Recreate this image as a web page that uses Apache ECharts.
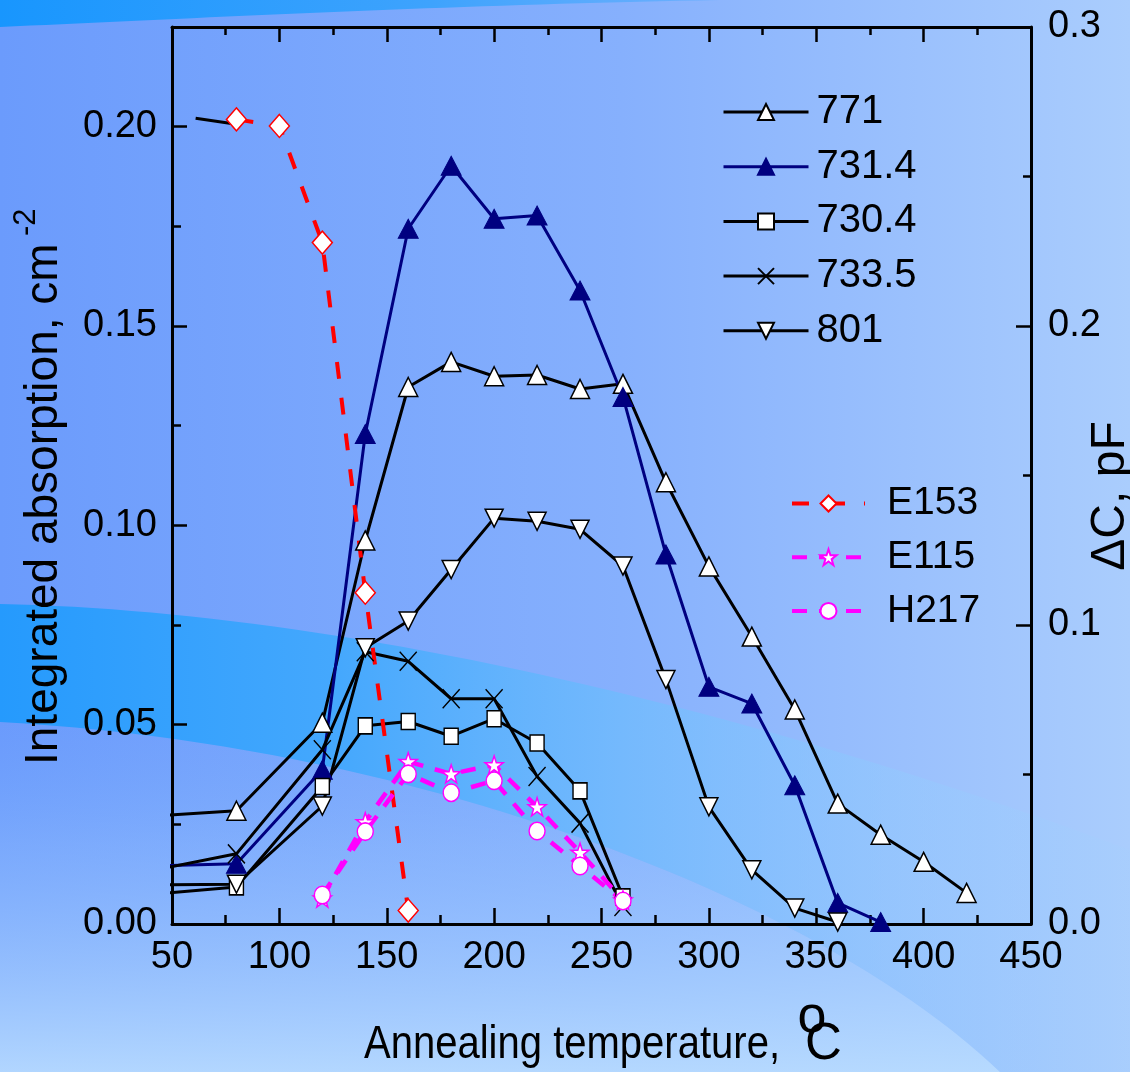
<!DOCTYPE html>
<html>
<head>
<meta charset="utf-8">
<title>Annealing behaviour of absorption bands and DLTS peaks</title>
<script src="https://cdn.jsdelivr.net/npm/echarts@6/dist/echarts.min.js"></script>
<style>
  html, body { margin: 0; padding: 0; background: #8ab3fd; }
  #chart { width: 1130px; height: 1072px; }
</style>
</head>
<body>
<div id="chart"></div>
<script>
// Annealing temperatures (°C); the first point (20 °C) sits left of the visible axis range
const tempIR = [20, 80, 120, 140, 160, 180, 200, 220, 240, 260, 280, 300, 320, 340, 360, 380, 400, 420];

// Integrated absorption of the IR bands, cm^-2
const abs771   = [0.0264, 0.0284, 0.0505, 0.0962, 0.1347, 0.1410, 0.1374, 0.1377, 0.1342, 0.1355, 0.1108, 0.0897, 0.0721, 0.0538, 0.0302, 0.0224, 0.0156, 0.0078];
const abs7314  = [0.0143, 0.0151, 0.0387, 0.1229, 0.1744, 0.1902, 0.1769, 0.1777, 0.1589, 0.1322, 0.0927, 0.0595, 0.0553, 0.0348, 0.0053, 0.0005];
const abs7304  = [0.0065, 0.0093, 0.0345, 0.0497, 0.0508, 0.0471, 0.0515, 0.0454, 0.0334, 0.0068];
const abs7335  = [0.0112, 0.0176, 0.0437, 0.0683, 0.0659, 0.0565, 0.0565, 0.0370, 0.0253, 0.0044];
const abs801   = [0.0097, 0.0100, 0.0296, 0.0693, 0.0760, 0.0889, 0.1018, 0.1010, 0.0990, 0.0898, 0.0613, 0.0294, 0.0136, 0.0040, 0.0005];

// DLTS peak amplitudes, ΔC in pF
const tempE153 = [80, 100, 120, 140, 160];
const dcE153   = [0.2691, 0.2669, 0.2279, 0.1108, 0.0045];
const tempE153Lead = [61, 80];
const dcE153Lead   = [0.2695, 0.2675];
const tempDLTS = [120, 140, 160, 180, 200, 220, 240, 260];
const dcE115   = [0.0087, 0.0342, 0.0543, 0.0502, 0.0532, 0.0392, 0.0240, 0.0080];
const dcH217   = [0.0097, 0.0309, 0.0502, 0.0439, 0.0479, 0.0311, 0.0194, 0.0077];

// Axis tick settings
const xTicks = { min: 50, max: 450, step: 50 };
const yLeftTicks = { min: 0, max: 0.225, step: 0.05, minorStep: 0.025 };
const yRightTicks = { min: 0, max: 0.3, step: 0.1 };

const FONT = "'Liberation Sans', Arial, Helvetica, sans-serif";

function pairs(xs, ys) { return ys.map((y, i) => [xs[i], y]); }

const SYM_DOWN = 'path://M0,0 L20,0 L10,17.3 Z';
const SYM_CROSS = 'path://M0,0 L10,10 M10,0 L0,10';
const SYM_STAR = 'path://M50,0 L61.8,35.1 L98.1,35.1 L68.8,56.7 L79.4,91 L50,70 L20.6,91 L31.2,56.7 L1.9,35.1 L38.2,35.1 Z';

// cubic bezier sampled into polygon points for the backdrop swooshes
function bez(p0, p1, p2, p3, n) {
  const pts = [];
  for (let i = 0; i <= n; i++) {
    const t = i / n, u = 1 - t;
    pts.push([
      u*u*u*p0[0] + 3*u*u*t*p1[0] + 3*u*t*t*p2[0] + t*t*t*p3[0],
      u*u*u*p0[1] + 3*u*u*t*p1[1] + 3*u*t*t*p2[1] + t*t*t*p3[1]
    ]);
  }
  return pts;
}

const topBand = [[0, 0], [720, 0]].concat(bez([720, 0], [450, 5], [200, 18], [0, 27], 40));
const midBand = bez([0, 604], [300, 610], [700, 690], [1130, 850], 50)
  .concat([[1130, 1072], [1000, 1072]])
  .concat(bez([1000, 1072], [820, 900], [420, 745], [0, 722], 50));
const lowBand = [[0, 722]].concat(bez([0, 722], [420, 745], [820, 900], [1000, 1072], 50))
  .concat([[0, 1072]]);

function lin(x0, y0, x1, y1, stops) {
  return { type: 'linear', x: x0, y: y0, x2: x1, y2: y1,
           colorStops: stops.map(s => ({ offset: s[0], color: s[1] })) };
}

const lineBase = (color, width, type) => ({ color: color, width: width, type: type || 'solid', cap: 'butt' });

const series = [
  {
    name: '771', type: 'line', data: pairs(tempIR, abs771), yAxisIndex: 0,
    symbol: 'triangle', symbolSize: [19, 19],
    lineStyle: lineBase('#000', 3),
    itemStyle: { color: '#fff', borderColor: '#000', borderWidth: 1.5 }
  },
  {
    name: '731.4', type: 'line', data: pairs(tempIR, abs7314), yAxisIndex: 0,
    symbol: 'triangle', symbolSize: [20, 19],
    lineStyle: lineBase('#000080', 3),
    itemStyle: { color: '#000080', borderColor: '#000080', borderWidth: 1 }
  },
  {
    name: '730.4', type: 'line', data: pairs(tempIR, abs7304), yAxisIndex: 0,
    symbol: 'rect', symbolSize: [14, 16],
    lineStyle: lineBase('#000', 3),
    itemStyle: { color: '#fff', borderColor: '#000', borderWidth: 1.5 }
  },
  {
    name: '733.5', type: 'line', data: pairs(tempIR, abs7335), yAxisIndex: 0,
    symbol: SYM_CROSS, symbolSize: [17, 19],
    lineStyle: lineBase('#000', 3),
    itemStyle: { color: 'rgba(0,0,0,0)', borderColor: '#000', borderWidth: 1.5 }
  },
  {
    name: '801', type: 'line', data: pairs(tempIR, abs801), yAxisIndex: 0,
    symbol: SYM_DOWN, symbolSize: [18, 18],
    lineStyle: lineBase('#000', 3),
    itemStyle: { color: '#fff', borderColor: '#000', borderWidth: 1.5 }
  },
  {
    name: 'E153 lead-in', type: 'line', data: pairs(tempE153Lead, dcE153Lead), yAxisIndex: 2,
    symbol: 'none', lineStyle: lineBase('#000', 3)
  },
  {
    name: 'E153', type: 'line', data: pairs(tempE153, dcE153), yAxisIndex: 2,
    symbol: 'diamond', symbolSize: [20, 23],
    lineStyle: { color: '#ff0000', width: 4, type: [17, 19] },
    itemStyle: { color: '#fff', borderColor: '#ff0000', borderWidth: 1.5 }
  },
  {
    name: 'E115', type: 'line', data: pairs(tempDLTS, dcE115), yAxisIndex: 2,
    symbol: SYM_STAR, symbolSize: [18, 18],
    lineStyle: { color: '#ff00ff', width: 4.5, type: [15, 12] },
    itemStyle: { color: '#fff', borderColor: '#ff00ff', borderWidth: 1.5 }
  },
  {
    name: 'H217', type: 'line', data: pairs(tempDLTS, dcH217), yAxisIndex: 2,
    symbol: 'circle', symbolSize: [16, 17.5],
    lineStyle: { color: '#ff00ff', width: 4.5, type: [15, 12] },
    itemStyle: { color: '#fff', borderColor: '#ff00ff', borderWidth: 1.5 }
  }
];
series.forEach(s => { s.clip = true; s.animation = false; s.emphasis = { disabled: true }; });

const axisLine = { show: true, onZero: false, lineStyle: { color: '#000', width: 3 } };
const labelStyle = { color: '#000', fontSize: 38, fontFamily: FONT };

const option = {
  animation: false,
  backgroundColor: 'transparent',
  grid: { left: 172, right: 99, top: 27, bottom: 148, containLabel: false },
  xAxis: [
    {
      type: 'value', position: 'bottom', min: xTicks.min, max: xTicks.max, interval: xTicks.step,
      axisLine: axisLine,
      axisTick: { inside: true, length: 16, lineStyle: { color: '#000', width: 2.5 } },
      minorTick: { show: true, splitNumber: 2, length: 9, lineStyle: { color: '#000', width: 2.5 } },
      splitLine: { show: false },
      axisLabel: Object.assign({ margin: 15 }, labelStyle)
    },
    {
      type: 'value', position: 'top', min: xTicks.min, max: xTicks.max, interval: xTicks.step,
      axisLine: axisLine,
      axisTick: { inside: true, length: 15, lineStyle: { color: '#000', width: 2.5 } },
      minorTick: { show: true, splitNumber: 2, length: 8, lineStyle: { color: '#000', width: 2.5 } },
      splitLine: { show: false },
      axisLabel: { show: false }
    }
  ],
  yAxis: [
    {
      type: 'value', position: 'left', min: yLeftTicks.min, max: yLeftTicks.max, interval: yLeftTicks.step,
      axisLine: axisLine,
      axisTick: { inside: true, length: 15, lineStyle: { color: '#000', width: 2.5 } },
      splitLine: { show: false },
      axisLabel: Object.assign({
        margin: 15, showMaxLabel: false,
        formatter: v => (Math.abs(v / yLeftTicks.step - Math.round(v / yLeftTicks.step)) < 1e-6 ? v.toFixed(2) : '')
      }, labelStyle)
    },
    {
      type: 'value', position: 'left', min: yLeftTicks.min, max: yLeftTicks.max, interval: yLeftTicks.minorStep,
      axisLine: { show: false },
      axisTick: { inside: true, length: 9, lineStyle: { color: '#000', width: 2.5 } },
      splitLine: { show: false },
      axisLabel: { show: false }
    },
    {
      type: 'value', position: 'right', min: yRightTicks.min, max: yRightTicks.max, interval: yRightTicks.step,
      axisLine: axisLine,
      axisTick: { inside: true, length: 15, lineStyle: { color: '#000', width: 2.5 } },
      minorTick: { show: true, splitNumber: 2, length: 8, lineStyle: { color: '#000', width: 2.5 } },
      splitLine: { show: false },
      axisLabel: Object.assign({ margin: 17, formatter: v => v.toFixed(1) }, labelStyle)
    }
  ],
  legend: [
    {
      data: ['771', '731.4', '730.4', '733.5', '801'],
      orient: 'vertical', left: 722, top: 92, padding: 0,
      itemWidth: 85, itemHeight: 20, itemGap: 14.7,
      selectedMode: false,
      lineStyle: { width: 3 },
      textStyle: { color: '#000', fontSize: 40, fontFamily: FONT, lineHeight: 38, padding: [0, 0, 0, 3] }
    },
    {
      data: ['E153', 'E115', 'H217'],
      orient: 'vertical', left: 790, top: 484, padding: 0,
      itemWidth: 73, itemHeight: 20, itemGap: 14.7,
      selectedMode: false,
      lineStyle: { width: 4 },
      textStyle: { color: '#000', fontSize: 39, fontFamily: FONT, lineHeight: 38, padding: [0, 0, 0, 17] }
    }
  ],
  graphic: [
    // backdrop
    { type: 'rect', z: -100, silent: true, shape: { x: 0, y: 0, width: 1130, height: 1072 },
      style: { fill: lin(0, 0, 1, 0, [[0, '#6b9bfc'], [0.55, '#86b0fd'], [1, '#aacdfd']]) } },
    { type: 'polygon', z: -99, silent: true, shape: { points: lowBand },
      style: { fill: lin(0, 0, 0, 1, [[0, 'rgba(120,175,253,0)'], [0.35, 'rgba(150,195,254,0.35)'], [1, 'rgba(185,220,255,0.9)']]) } },
    { type: 'polygon', z: -98, silent: true, shape: { points: midBand },
      style: { fill: lin(0, 0, 1, 0, [[0, '#259afd'], [0.3, '#45a8fd'], [0.55, 'rgba(110,188,253,0.75)'], [0.8, 'rgba(145,205,254,0.4)'], [1, 'rgba(160,210,254,0.15)']]) } },
    { type: 'polygon', z: -97, silent: true, shape: { points: topBand },
      style: { fill: lin(0, 0, 1, 0, [[0, '#1896fe'], [0.6, '#3ea3fd'], [1, '#6fb0fd']]) } },
    // axis titles
    { type: 'text', z: 10, x: 364, y: 1045, scaleX: 0.87,
      style: { text: 'Annealing temperature,', fontSize: 46, fontFamily: FONT, fill: '#000', align: 'left', verticalAlign: 'middle' } },
    { type: 'text', z: 10, x: 812, y: 1018,
      style: { text: 'o', fontSize: 52, fontFamily: FONT, fill: '#000', align: 'center', verticalAlign: 'middle' } },
    { type: 'text', z: 10, x: 805, y: 1045,
      style: { text: 'C', fontSize: 51, fontFamily: FONT, fill: '#000', align: 'left', verticalAlign: 'middle' } },
    { type: 'text', z: 10, x: 44, y: 765, rotation: Math.PI / 2,
      style: { text: 'Integrated absorption, cm', fontSize: 46, fontFamily: FONT, fill: '#000', align: 'left', verticalAlign: 'middle' } },
    { type: 'text', z: 10, x: 26, y: 236, rotation: Math.PI / 2,
      style: { text: '-2', fontSize: 31, fontFamily: FONT, fill: '#000', align: 'left', verticalAlign: 'middle' } },
    { type: 'text', z: 10, x: 1111, y: 496, rotation: Math.PI / 2,
      style: { text: 'ΔC, pF', fontSize: 48, fontFamily: FONT, fill: '#000', align: 'center', verticalAlign: 'middle' } }
  ],
  series: series
};

const chart = echarts.init(document.getElementById('chart'), null, { renderer: 'canvas' });
chart.setOption(option);
</script>
</body>
</html>
